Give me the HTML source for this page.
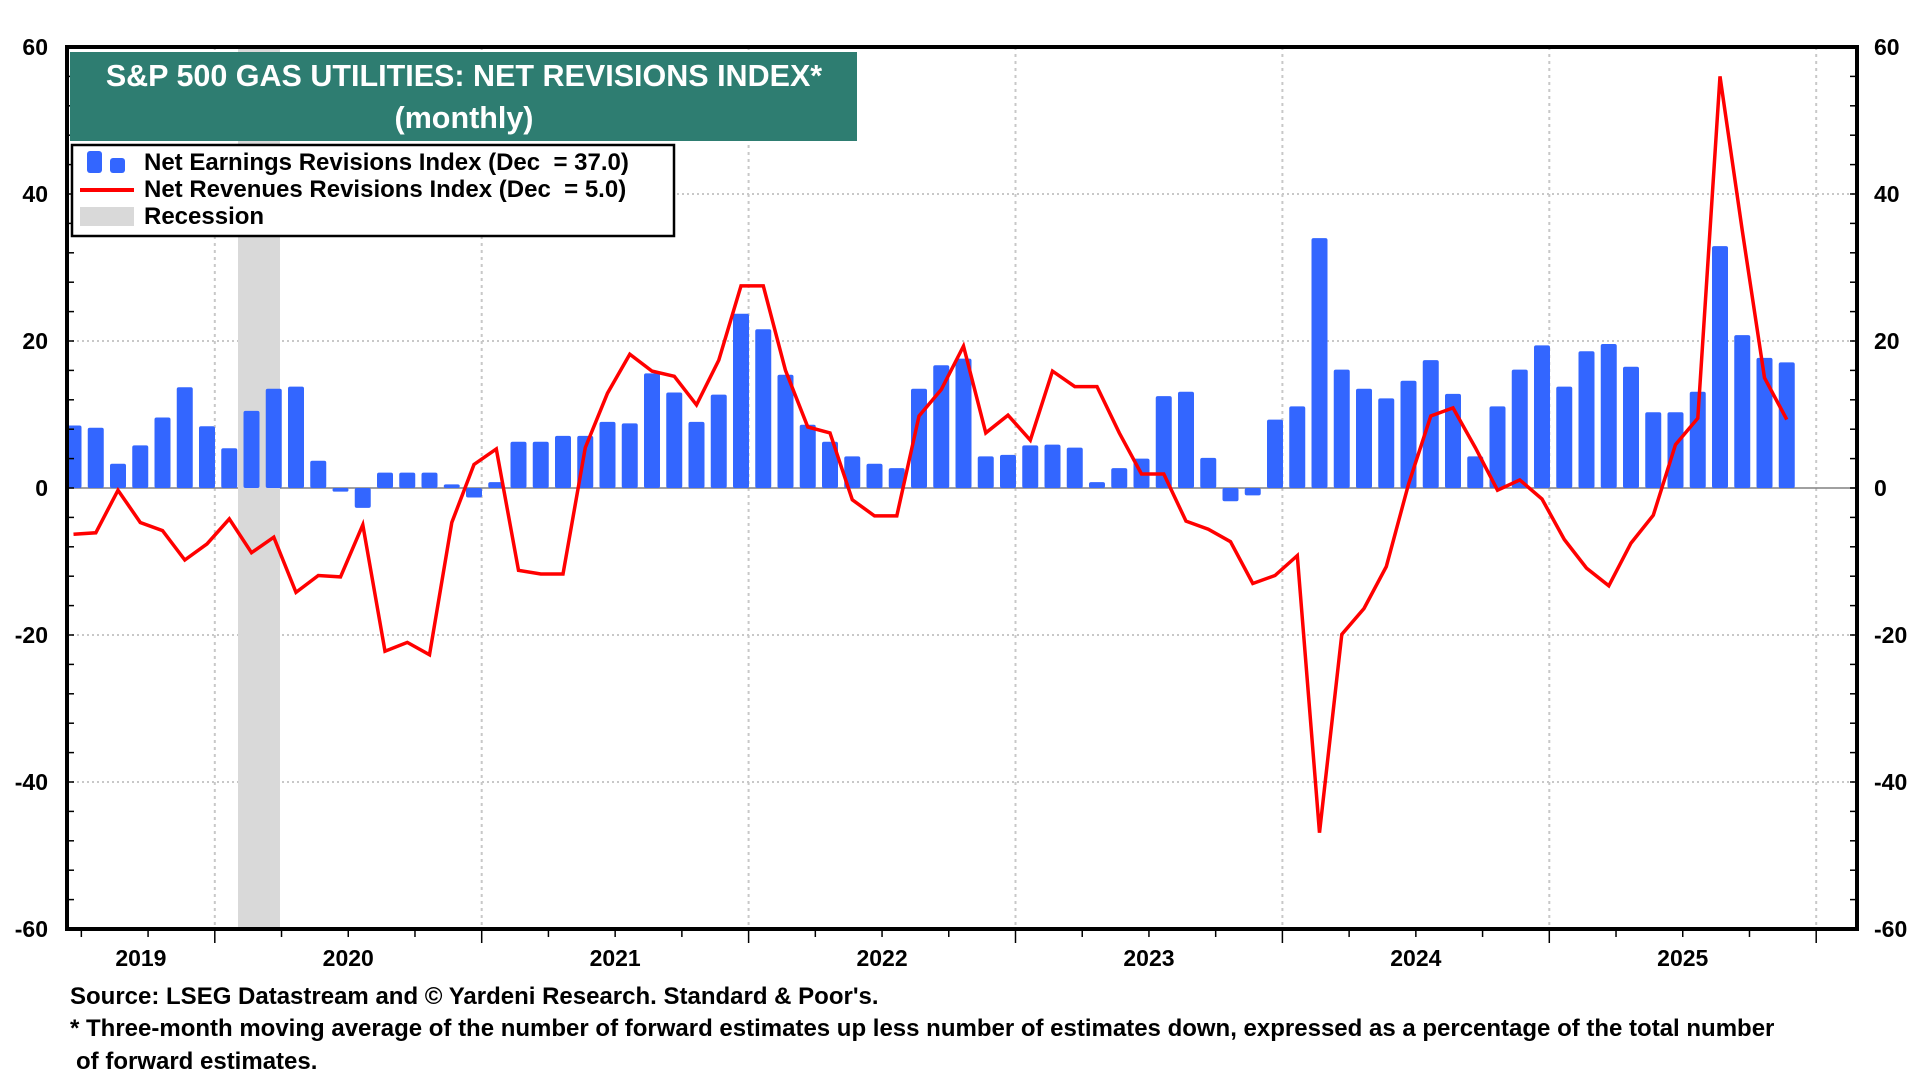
<!DOCTYPE html>
<html><head><meta charset="utf-8"><style>
html,body{margin:0;padding:0;background:#fff;}
svg{display:block;font-family:"Liberation Sans",Arial,sans-serif;font-weight:bold;}
</style></head><body>
<svg id="chart" width="1920" height="1080" viewBox="0 0 1920 1080" xmlns="http://www.w3.org/2000/svg">
<g id="grid"></g>
<rect x="238" y="47" width="42" height="882" fill="#d9d9d9"/>
<g id="bars"></g>
<path id="line" fill="none" stroke="#ff0000" stroke-width="3.5" stroke-linejoin="miter"/>
<g id="axes"></g>
<g>
<rect x="70" y="52" width="787" height="89" fill="#2e7d71"/>
<text x="464" y="86" text-anchor="middle" fill="#fff" font-size="30.5">S&amp;P 500 GAS UTILITIES: NET REVISIONS INDEX*</text>
<text x="464" y="128" text-anchor="middle" fill="#fff" font-size="30.5">(monthly)</text>
</g>
<g>
<rect x="72" y="145" width="602" height="91" fill="#fff" stroke="#000" stroke-width="2.5"/>
<rect x="87" y="151" width="15" height="22" rx="3" fill="#3366ff"/>
<rect x="110" y="158" width="15" height="15" rx="3" fill="#3366ff"/>
<text x="144" y="170" font-size="24" fill="#000" xml:space="preserve">Net Earnings Revisions Index (Dec  = 37.0)</text>
<line x1="80" y1="190" x2="134" y2="190" stroke="#ff0000" stroke-width="4"/>
<text x="144" y="197" font-size="24" fill="#000" xml:space="preserve">Net Revenues Revisions Index (Dec  = 5.0)</text>
<rect x="80" y="207" width="54" height="19" fill="#d9d9d9"/>
<text x="144" y="224" font-size="24" fill="#000">Recession</text>
</g>
<g>
<text x="70" y="1004" font-size="24">Source: LSEG Datastream and © Yardeni Research. Standard &amp; Poor's.</text>
<text x="70" y="1036" font-size="24">* Three-month moving average of the number of forward estimates up less number of estimates down, expressed as a percentage of the total number</text>
<text x="76" y="1069" font-size="24">of forward estimates.</text>
</g>
</svg>
<script>
const earnings=[8.5,8.2,3.3,5.8,9.6,13.7,8.4,5.4,10.5,13.5,13.8,3.7,-0.5,-2.7,2.1,2.1,2.1,0.5,-1.3,0.8,6.3,6.3,7.1,7.1,9.0,8.8,15.6,13.0,9.0,12.7,23.7,21.6,15.4,8.6,6.3,4.3,3.3,2.7,13.5,16.7,17.6,4.3,4.5,5.8,5.9,5.5,0.8,2.7,4.0,12.5,13.1,4.1,-1.8,-1.0,9.3,11.1,34.0,16.1,13.5,12.2,14.6,17.4,12.8,4.3,11.1,16.1,19.4,13.8,18.6,19.6,16.5,10.3,10.3,13.1,32.9,20.8,17.7,17.1];
const revenues=[-6.3,-6.1,-0.3,-4.7,-5.8,-9.8,-7.6,-4.2,-8.8,-6.7,-14.2,-11.9,-12.1,-5.0,-22.2,-21.0,-22.7,-4.7,3.2,5.3,-11.2,-11.7,-11.7,5.5,12.9,18.2,15.9,15.2,11.3,17.4,27.5,27.5,16.0,8.3,7.5,-1.6,-3.8,-3.8,9.8,13.4,19.3,7.5,9.9,6.5,15.9,13.8,13.8,7.5,1.9,1.9,-4.5,-5.6,-7.3,-13.0,-11.9,-9.2,-46.9,-19.9,-16.4,-10.7,0.5,9.8,10.9,5.5,-0.3,1.1,-1.5,-7.0,-10.9,-13.3,-7.5,-3.7,5.9,9.5,56.0,35.0,15.0,9.3];
const yTicks=[-60,-40,-20,0,20,40,60];
const years=["2019","2020","2021","2022","2023","2024","2025"];
const NS="http://www.w3.org/2000/svg";
const L=67,R=1857,T=47,B=929;
const yS=v=>T+(60-v)*(B-T)/120;
const xS=i=>73.5+i*22.25;
const YW=266.9;
const yrX=k=>214.8+(k-1)*YW;
function mk(tag,attrs,parent){const e=document.createElementNS(NS,tag);for(const k in attrs)e.setAttribute(k,attrs[k]);parent.appendChild(e);return e;}
const grid=document.getElementById('grid'),axes=document.getElementById('axes'),bars=document.getElementById('bars');
yTicks.forEach(v=>{
  if(v!==0&&Math.abs(v)!==60){const g=mk('line',{x1:L,x2:R,y1:yS(v),y2:yS(v),stroke:'#c8c8c8','stroke-width':2,'stroke-dasharray':'2 3'},grid);
  
  }
  const t1=mk('text',{x:48,y:yS(v)+8,'text-anchor':'end','font-size':23},axes);t1.textContent=v;
  
  
  const t2=mk('text',{x:1874,y:yS(v)+8,'text-anchor':'start','font-size':23},axes);t2.textContent=v;
  
  
});
for(let k=1;k<=7;k++){const x=yrX(k);if(x>L&&x<R){const g=mk('line',{x1:x,x2:x,y1:T,y2:B,stroke:'#c8c8c8','stroke-width':2,'stroke-dasharray':'3 4'},grid);
  
  }}
const z=mk('line',{x1:L,x2:R,y1:yS(0),y2:yS(0),stroke:'#808080','stroke-width':1.5},grid);


earnings.forEach((v,i)=>{const y0=yS(0),y1=yS(v);
  const r=mk('rect',{x:xS(i)-8,y:Math.min(y0,y1),width:16,height:Math.max(1.5,Math.abs(y1-y0)),rx:2,fill:'#3366ff'},bars);
  
  });
document.getElementById('line').setAttribute('d',revenues.map((v,i)=>(i?'L':'M')+xS(i).toFixed(1)+' '+yS(v).toFixed(1)).join(' '));
for(let v=-60;v<=60;v+=4){mk('line',{x1:L,x2:L+7,y1:yS(v),y2:yS(v),stroke:'#000','stroke-width':1.5},axes);mk('line',{x1:R-7,x2:R,y1:yS(v),y2:yS(v),stroke:'#000','stroke-width':1.5},axes);}
for(let q=-8;q<=28;q++){const x=yrX(1)+q*YW/4;if(x<L||x>R)continue;const maj=q%4===0;mk('line',{x1:x,x2:x,y1:B,y2:B+(maj?14:8),stroke:'#000','stroke-width':1.5},axes);}
years.forEach((y,k)=>{const cx=k===0?(L+yrX(1))/2:yrX(k)+YW/2;
  const t=mk('text',{x:cx,y:966,'text-anchor':'middle','font-size':23},axes);t.textContent=y;
  
  });
const f=mk('rect',{x:L,y:T,width:R-L,height:B-T,fill:'none',stroke:'#000','stroke-width':4},axes);


</script>
</body></html>
